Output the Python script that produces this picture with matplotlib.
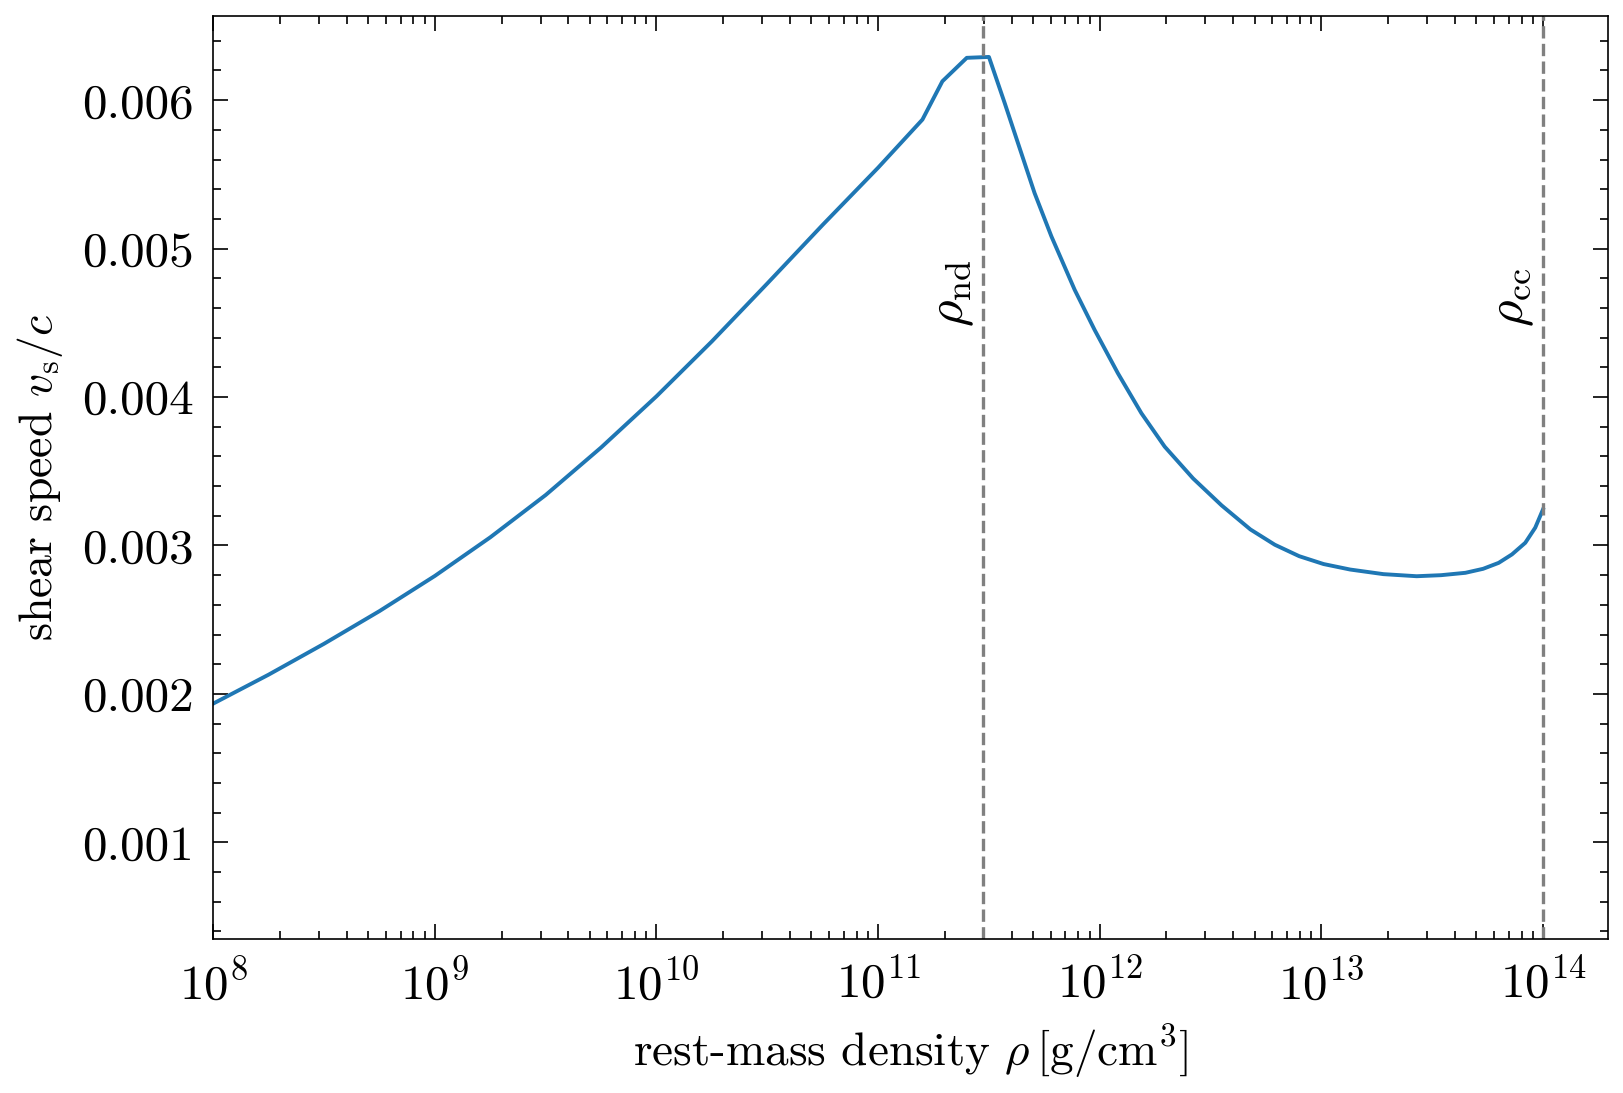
import matplotlib
matplotlib.use("Agg")
import matplotlib.pyplot as plt
import numpy as np
from matplotlib.ticker import MultipleLocator, FormatStrFormatter, LogLocator, NullFormatter

plt.rcParams.update({
    "font.family": "serif",
    "font.serif": ["cmr10"],
    "mathtext.fontset": "cm",
    "axes.formatter.use_mathtext": True,
    "axes.unicode_minus": False,
    "axes.linewidth": 0.6,
    "xtick.direction": "in",
    "ytick.direction": "in",
    "xtick.top": True,
    "ytick.right": True,
    "xtick.major.size": 5.5,
    "ytick.major.size": 5.5,
    "xtick.minor.size": 3.0,
    "ytick.minor.size": 3.0,
    "xtick.major.width": 0.6,
    "ytick.major.width": 0.6,
    "xtick.minor.width": 0.6,
    "ytick.minor.width": 0.6,
    "xtick.minor.visible": True,
    "ytick.minor.visible": True,
})

# data (log10 of rest-mass density, shear speed / c)
log_rho = [8.00, 8.25, 8.50, 8.75, 9.00, 9.25, 9.50, 9.75, 10.00, 10.25,
           10.50, 10.75, 11.00, 11.20, 11.29, 11.40, 11.50,
           11.571, 11.631, 11.706, 11.782, 11.887, 11.977, 12.082, 12.188,
           12.293, 12.421, 12.55, 12.68, 12.79, 12.90, 13.01, 13.13, 13.28,
           13.43, 13.54, 13.65, 13.73, 13.80, 13.86, 13.92, 13.965, 14.00]
v_shear = [0.001935, 0.002130, 0.002338, 0.002558, 0.002795, 0.003055,
           0.003340, 0.003660, 0.004005, 0.004375, 0.004765, 0.005160,
           0.005545, 0.005869, 0.006127, 0.006285, 0.006291,
           0.005981, 0.005711, 0.005374, 0.005082, 0.004722, 0.004452,
           0.004160, 0.003891, 0.003666, 0.003452, 0.003270, 0.003108,
           0.003005, 0.002928, 0.002875, 0.002838, 0.002807, 0.002793,
           0.002800, 0.002816, 0.002843, 0.002883, 0.002940, 0.003018,
           0.003120, 0.003243]
rho_nd = 2.97e11
rho_cc = 1.0e14
marker_labels = [r"$\rho_\mathrm{nd}$", r"$\rho_\mathrm{cc}$"]

rho = 10.0 ** np.array(log_rho)

fig = plt.figure(figsize=(8.12, 5.465), dpi=200)
ax = fig.add_axes([0.1313, 0.141, 0.8587, 0.8448])

ax.plot(rho, v_shear, color="#1f77b4", lw=1.4)
for r, lab in zip([rho_nd, rho_cc], marker_labels):
    ax.axvline(r, color="gray", ls="--", lw=1.2)
    ax.text(r / 1.07, 0.00447, lab, rotation=90, ha="right", va="bottom",
            fontsize=18.5)

ax.set_xscale("log")
ax.set_xlim(1e8, 1.96e14)
ax.set_ylim(0.00035, 0.00657)
ax.xaxis.set_major_locator(LogLocator(base=10, numticks=20))
ax.xaxis.set_minor_locator(LogLocator(base=10, subs=np.arange(2, 10), numticks=100))
ax.xaxis.set_minor_formatter(NullFormatter())
ax.yaxis.set_major_locator(MultipleLocator(0.001))
ax.yaxis.set_minor_locator(MultipleLocator(0.0002))
ax.yaxis.set_major_formatter(FormatStrFormatter("%.3f"))
ax.tick_params(axis="both", which="major", labelsize=17.7, pad=7)

ax.set_xlabel(r"rest-mass density $\rho\,[\mathrm{g/cm^3}]$", fontsize=17, labelpad=5)
ax.set_ylabel(r"shear speed $v_\mathrm{s}/c$", fontsize=16.5, labelpad=6)

fig.savefig("out.png", dpi=200)
